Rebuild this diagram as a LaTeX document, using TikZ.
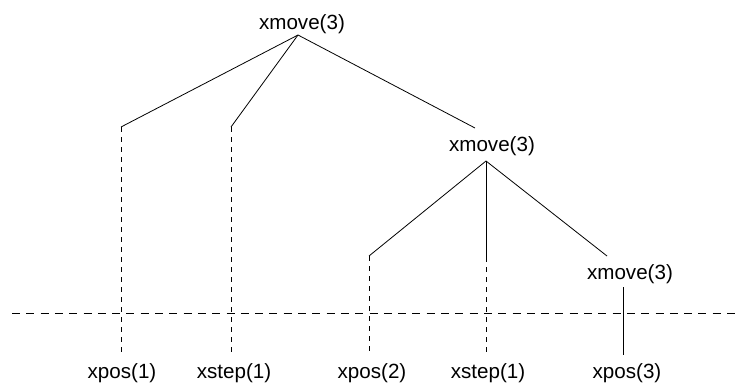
\documentclass[tikz,border=0pt]{standalone}
\usepackage{fontspec}
\setmainfont{Liberation Sans}
\usetikzlibrary{positioning}

\begin{document}
\begin{tikzpicture}[
    x=1pt, y=-1pt,
    call/.style={font=\fontsize{20.6}{24}\selectfont, inner sep=0pt},
    branch/.style={line width=0.8pt},
    leaf/.style={line width=0.8pt, dash pattern=on 4.5pt off 5.5pt},
    level/.style={line width=0.8pt, dash pattern=on 8pt off 6.3pt}
]
\useasboundingbox (0,0) rectangle (740,383);

\node[call] (top) at (302,24) {xmove(3)};
\node[call] (mid) at (492,146.5) {xmove(3)};
\node[call] (low) at (630,274) {xmove(3)};

\node[call] (pos1) at (122,373.5) {xpos(1)};
\node[call] (step1) at (234,373.5) {xstep(1)};
\node[call] (pos2) at (372,373.5) {xpos(2)};
\node[call] (step2) at (488,373.5) {xstep(1)};
\node[call] (pos3) at (627,373.5) {xpos(3)};

\coordinate (top-a) at (298,35);
\coordinate (top-1) at (121,127);
\coordinate (top-2) at (231,127);
\coordinate (top-3) at (475,128);
\coordinate (mid-a) at (486,161);
\coordinate (mid-1) at (369,256);
\coordinate (mid-2) at (486,257);
\coordinate (mid-3) at (607,256);
\coordinate (low-a) at (623,287);
\coordinate (end1) at (121,355);
\coordinate (end2) at (231,355);
\coordinate (end3) at (369,355);
\coordinate (end4) at (486,355);
\coordinate (end5) at (623,355);
\coordinate (cut-l) at (12,313);
\coordinate (cut-r) at (740,313);

\draw[branch] (top-a) -- (top-1);
\draw[branch] (top-a) -- (top-2);
\draw[branch] (top-a) -- (top-3);
\draw[branch] (mid-a) -- (mid-1);
\draw[branch] (mid-a) -- (mid-2);
\draw[branch] (mid-a) -- (mid-3);
\draw[branch] (low-a) -- (end5);

\draw[leaf] (top-1) -- (end1);
\draw[leaf] (top-2) -- (end2);
\draw[leaf] (mid-1) -- (end3);
\draw[leaf] (mid-2) -- (end4);

\draw[level] (cut-l) -- (cut-r);

\end{tikzpicture}
\end{document}
